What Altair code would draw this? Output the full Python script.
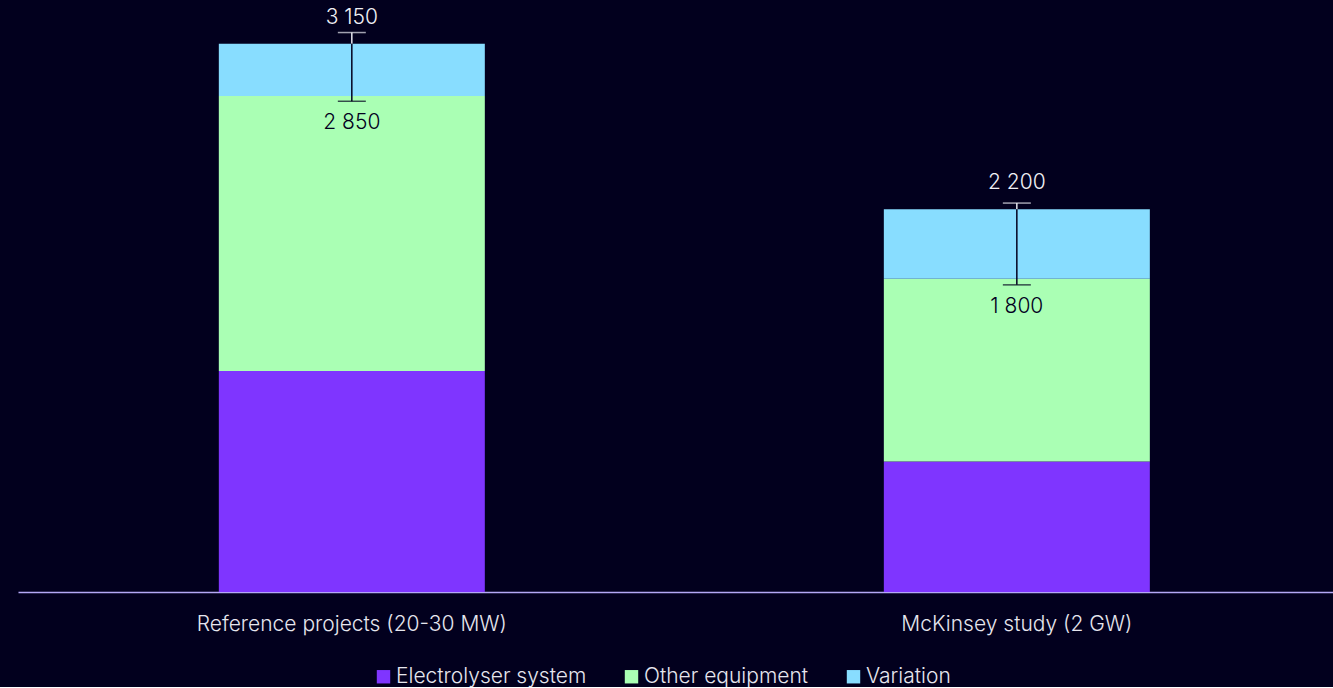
import altair as alt
import pandas as pd

projects = ["Reference projects (20-30 MW)", "McKinsey study (2 GW)"]
components = ["Electrolyser system", "Other equipment", "Variation"]
electrolyser = [1270, 750]
other_equipment = [1580, 1050]
variation = [300, 400]
err_high = [3215, 2235]
err_low = [2820, 1765]
label_high = [3150, 2200]
label_low = [2850, 1800]
colors = ["#7F35FF", "#AAFFB4", "#88DDFF"]

BG = "#02001E"
LIGHT = "#E6E6EE"
FONT = "Inter"
FS = 21

rows = []
for i, p in enumerate(projects):
    for j, (c, vals) in enumerate(zip(components, [electrolyser, other_equipment, variation])):
        rows.append({"project": p, "component": c, "value": vals[i], "order": j})
bars_df = pd.DataFrame(rows)

def fmt(v):
    return f"{v:,}".replace(",", " ")

err_df = pd.DataFrame({
    "project": projects,
    "hi": err_high,
    "lo": err_low,
    "top": label_high,
    "bottom": label_low,
    "top_txt": [fmt(v) for v in label_high],
    "bottom_txt": [fmt(v) for v in label_low],
})

xscale = alt.Scale(domain=projects, paddingInner=0.6, paddingOuter=0.2887, align=0.523)
yscale = alt.Scale(domain=[0, 3402], nice=False, zero=True)

x_enc = alt.X("project:N", scale=xscale, sort=projects,
              axis=alt.Axis(title=None, labelAngle=0, ticks=False, labelPadding=21,
                            labelFontSize=FS, labelColor=LIGHT, labelFont=FONT,
                            labelFontWeight=300, domainColor="#B4A8F5", domainWidth=1.5,
                            grid=False, labelLimit=600))
xp = alt.X("project:N", scale=xscale, sort=projects)

bars = alt.Chart(bars_df).mark_bar().encode(
    x=x_enc,
    y=alt.Y("value:Q", stack="zero", scale=yscale, axis=None),
    color=alt.Color("component:N", sort=components,
                    scale=alt.Scale(domain=components, range=colors),
                    legend=alt.Legend(title=None, orient="none", direction="horizontal",
                                      legendX=355, legendY=666,
                                      symbolType="square", symbolSize=180, symbolStrokeWidth=0,
                                      labelFontSize=FS, labelFont=FONT, labelFontWeight=300,
                                      labelColor=LIGHT, columnPadding=34, labelOffset=2,
                                      labelLimit=400, symbolOpacity=1)),
    order=alt.Order("order:Q"),
)

base = alt.Chart(err_df)
rule_out = base.mark_rule(color=LIGHT, strokeWidth=1.5).encode(
    x=xp, y=alt.Y("hi:Q", scale=yscale), y2="top:Q",
)
rule_in = base.mark_rule(color=BG, strokeWidth=1.5).encode(
    x=xp, y=alt.Y("top:Q", scale=yscale), y2="lo:Q",
)
cap_hi = base.mark_tick(color=LIGHT, size=28, thickness=1.5, orient="horizontal").encode(
    x=xp, y=alt.Y("hi:Q", scale=yscale),
)
cap_lo = base.mark_tick(color=BG, size=28, thickness=1.5, orient="horizontal").encode(
    x=xp, y=alt.Y("lo:Q", scale=yscale),
)
txt_hi = base.mark_text(color="#F0F0F5", fontSize=FS, font=FONT, fontWeight=300,
                        baseline="alphabetic", dy=-20).encode(
    x=xp, y=alt.Y("top:Q", scale=yscale), text="top_txt:N",
)
txt_lo = base.mark_text(color=BG, fontSize=FS, font=FONT, fontWeight=300,
                        baseline="top", dy=11).encode(
    x=xp, y=alt.Y("lo:Q", scale=yscale), text="bottom_txt:N",
)

chart = alt.layer(bars, rule_out, rule_in, cap_hi, cap_lo, txt_hi, txt_lo).properties(
    width=1315, height=592, background=BG,
    padding={"left": 18, "top": 0, "right": 0, "bottom": 0},
).configure_view(stroke=None)

chart.save("out.html", embed_options={"renderer": "svg", "actions": False})
